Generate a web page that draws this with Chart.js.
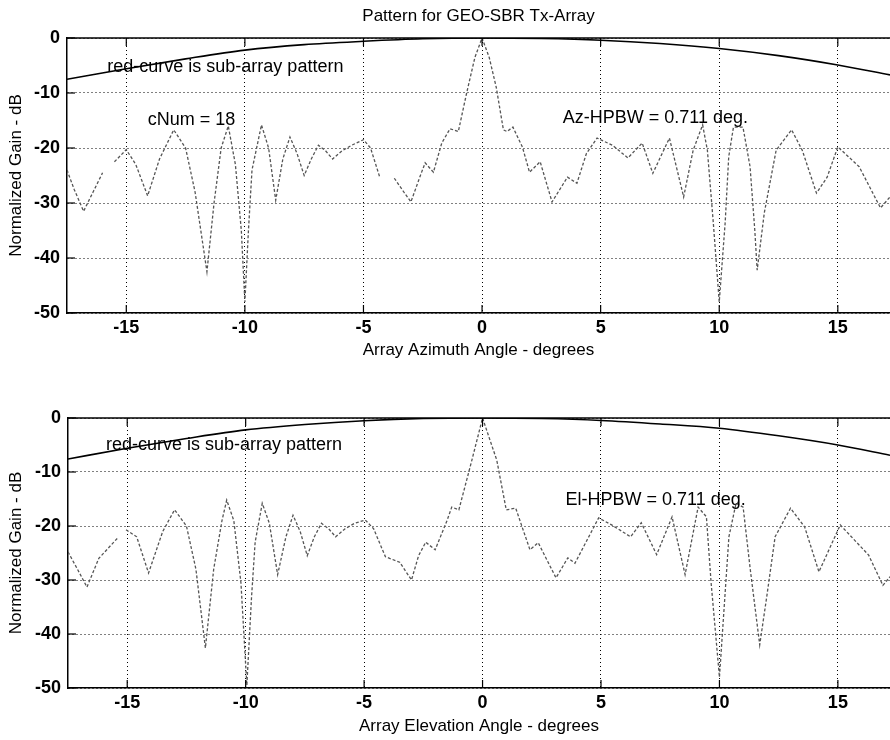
<!DOCTYPE html>
<html>
<head>
<meta charset="utf-8">
<script src="https://cdn.jsdelivr.net/npm/chart.js@4.4.1/dist/chart.umd.min.js"></script>
<style>
  body { margin: 0; background: #fff; }
  #wrap { position: relative; width: 890px; height: 740px; }
  canvas { position: absolute; left: 0; }
</style>
</head>
<body>
<div id="wrap">
  <canvas id="chart_Az" width="890" height="370" style="top:0"></canvas>
  <canvas id="chart_El" width="890" height="370" style="top:370px"></canvas>
</div>
<script>
// values
var xTicks = [-15, -10, -5, 0, 5, 10, 15];
var yTicks = [0, -10, -20, -30, -40, -50];

var azAngle = [-17.5, -17.2, -16.8, -16.4, -16.0, -15.8, -15.5, -15.0, -14.6, -14.1, -13.6, -13.0, -12.5, -12.1, -11.6, -11.3, -11.0, -10.7, -10.4, -10.15, -10.0, -9.85, -9.7, -9.3, -9.0, -8.7, -8.4, -8.1, -7.8, -7.5, -7.2, -6.9, -6.6, -6.3, -5.9, -5.5, -5.0, -4.7, -4.3, -4.0, -3.7, -3.3, -3.0, -2.6, -2.4, -2.05, -1.7, -1.35, -1.0, -0.65, -0.3, 0, 0.3, 0.6, 0.9, 1.05, 1.3, 1.7, 2.0, 2.45, 2.95, 3.6, 4.0, 4.4, 4.85, 5.5, 6.15, 6.75, 7.2, 7.9, 8.5, 8.9, 9.3, 9.5, 9.75, 10.0, 10.25, 10.4, 10.6, 11.0, 11.3, 11.5, 11.6, 11.9, 12.4, 13.05, 13.5, 14.1, 14.55, 15.0, 15.9, 16.8, 17.2];
var azGain = [-24, -27.5, -31.5, -28, -24.5, null, -22.5, -20.3, -23, -28.7, -22, -16.7, -20, -28, -42.5, -30, -20, -16, -23, -35, -48, -35, -24, -15.8, -20, -29.5, -22, -18, -21, -25, -22, -19.5, -20.5, -22, -20.5, -19.5, -18.5, -20, -25.5, null, -25.5, -28, -29.8, -25, -22.7, -24.4, -19.1, -16.5, -17, -10, -3.5, 0, -3.5, -9, -16.7, -17, -16.2, -19.8, -24.4, -22.5, -29.8, -25.3, -26.4, -21, -18.2, -19.5, -21.8, -19.1, -24.6, -18.2, -28.9, -20.4, -15.8, -20.4, -33.6, -48, -33.6, -21.6, -16.2, -16.2, -23.4, -35, -42.2, -31.8, -20.4, -16.7, -20.4, -28.2, -25.3, -19.8, -23.4, -30.9, -28.9];

var elAngle = [-17.5, -17.1, -16.7, -16.2, -15.4, -15.3, -15.05, -14.6, -14.1, -13.5, -13.0, -12.5, -12.1, -11.7, -11.35, -11.0, -10.8, -10.5, -10.2, -9.95, -9.75, -9.6, -9.3, -9.0, -8.65, -8.3, -8.0, -7.7, -7.4, -7.1, -6.8, -6.5, -6.2, -5.8, -5.4, -4.95, -4.6, -4.1, -3.5, -3.0, -2.7, -2.4, -2.0, -1.5, -1.3, -1.0, -0.45, 0, 0.6, 1.0, 1.4, 2.0, 2.35, 3.1, 3.6, 3.9, 4.9, 5.45, 6.25, 6.7, 7.35, 8.0, 8.55, 9.1, 9.45, 9.65, 10.0, 10.4, 10.7, 11.0, 11.3, 11.7, 12.0, 12.35, 13.0, 13.6, 14.2, 15.1, 16.3, 16.9, 17.2];
var elGain = [-24.8, -28, -31.3, -26, -22.2, null, -20.7, -22, -28.7, -21, -17, -20, -28, -42.6, -28, -19, -15.2, -19, -30.5, -49.5, -33, -23, -15.8, -19.5, -29, -22, -18, -21, -25.5, -22, -19.5, -20.5, -22, -20.5, -19.5, -18.9, -20.5, -25.7, -26.7, -30, -25.5, -23, -24.4, -19, -16.5, -17, -7.8, 0, -7.8, -17, -16.7, -24.4, -23.1, -29.6, -25.9, -26.9, -18.5, -19.8, -22, -19.4, -25.3, -18.3, -29, -16.5, -18.3, -30.6, -48, -22, -15.8, -16.5, -28, -42, -33, -22, -16.7, -20.2, -28.5, -19.8, -25.4, -31, -29.4];

var subAngle = [-17.5, -15, -12.5, -10, -7.5, -5, -2.5, 0, 2.5, 5, 7.5, 10, 12.5, 15, 17.2];
var azSubGain = [-7.5, -5.6, -3.8, -2.2, -1.2, -0.6, -0.15, 0, -0.1, -0.4, -1.0, -1.9, -3.2, -4.9, -6.7];
var elSubGain = [-7.6, -5.6, -3.8, -2.2, -1.2, -0.5, -0.1, 0, -0.1, -0.45, -1.1, -1.9, -3.3, -5.0, -6.9];

var FONT = "'Liberation Sans', Arial, sans-serif";

function toPoints(xs, ys) {
  var pts = [];
  for (var i = 0; i < xs.length; i++) {
    pts.push({ x: xs[i], y: ys[i] });
  }
  return pts;
}

// title, text notes, inward tick marks, top frame line
var plotExtras = {
  id: 'plotExtras',
  afterDraw: function (chart, args, opts) {
    var ctx = chart.ctx;
    var a = chart.chartArea;
    var xs = chart.scales.x, ys = chart.scales.y;
    ctx.save();
    ctx.strokeStyle = '#000';
    ctx.lineWidth = 1.5;
    ctx.beginPath();
    ctx.moveTo(a.left, a.top);
    ctx.lineTo(a.right, a.top);
    ctx.stroke();
    ctx.lineWidth = 1.2;
    xs.ticks.forEach(function (t) {
      var px = xs.getPixelForValue(t.value);
      ctx.beginPath();
      ctx.moveTo(px, a.bottom); ctx.lineTo(px, a.bottom - 8);
      ctx.moveTo(px, a.top); ctx.lineTo(px, a.top + 8);
      ctx.stroke();
    });
    ys.ticks.forEach(function (t) {
      var py = ys.getPixelForValue(t.value);
      ctx.beginPath();
      ctx.moveTo(a.left, py); ctx.lineTo(a.left + 8, py);
      ctx.stroke();
    });
    ctx.fillStyle = '#000';
    ctx.textBaseline = 'middle';
    if (opts.title) {
      ctx.font = '17px ' + FONT;
      ctx.textAlign = 'center';
      ctx.fillText(opts.title, (a.left + a.right) / 2, opts.titleY);
    }
    ctx.font = '18px ' + FONT;
    ctx.textAlign = 'left';
    (opts.notes || []).forEach(function (n) {
      ctx.fillText(n.text, xs.getPixelForValue(n.x), ys.getPixelForValue(n.y));
    });
    ctx.restore();
  }
};

function makePattern(canvasId, angle, gain, subGain, xTitle, extra, padTop, xHeight, yWidth, titlePad) {
  return new Chart(document.getElementById(canvasId), {
    type: 'line',
    data: {
      datasets: [{
        label: 'sub-array',
        data: toPoints(subAngle, subGain),
        borderColor: '#000',
        borderWidth: 1.6,
        pointRadius: 0,
        cubicInterpolationMode: 'monotone'
      }, {
        label: 'array',
        data: toPoints(angle, gain),
        borderColor: '#555',
        borderWidth: 1.3,
        borderDash: [3, 2],
        pointRadius: 0,
        spanGaps: false,
        tension: 0
      }]
    },
    options: {
      responsive: false,
      animation: false,
      layout: { padding: { top: padTop, left: 0, right: 0, bottom: 0 } },
      plugins: {
        legend: { display: false },
        tooltip: { enabled: false },
        plotExtras: extra
      },
      scales: {
        x: {
          type: 'linear',
          min: -17.5,
          max: 17.2,
          afterFit: function (s) { s.height = xHeight; },
          afterBuildTicks: function (s) { s.ticks = xTicks.map(function (v) { return { value: v }; }); },
          ticks: { includeBounds: false, padding: 4, color: '#000', font: { family: FONT, size: 18, weight: 'bold' } },
          grid: { color: '#000', lineWidth: 1, drawTicks: false },
          border: { display: true, color: '#000', width: 1.5, dash: [1, 3] },
          title: { display: true, text: xTitle, color: '#000', padding: titlePad, font: { family: FONT, size: 17 } }
        },
        y: {
          type: 'linear',
          min: -50,
          max: 0,
          afterFit: function (s) { s.width = yWidth; },
          afterBuildTicks: function (s) { s.ticks = yTicks.map(function (v) { return { value: v }; }); },
          ticks: { padding: 7, color: '#000', font: { family: FONT, size: 18, weight: 'bold' } },
          grid: { color: '#000', lineWidth: 1, drawTicks: false },
          border: { display: true, color: '#000', width: 1.5, dash: [1, 3] },
          title: { display: true, text: 'Normalized Gain - dB', color: '#000', padding: 6, font: { family: FONT, size: 17 } }
        }
      }
    },
    plugins: [plotExtras]
  });
}

makePattern('chart_Az', azAngle, azGain, azSubGain, 'Array Azimuth Angle - degrees', {
  title: 'Pattern for GEO-SBR Tx-Array',
  titleY: 16,
  notes: [
    { text: 'red-curve is sub-array pattern', x: -15.8, y: -5.3 },
    { text: 'cNum = 18', x: -14.1, y: -15 },
    { text: 'Az-HPBW = 0.711 deg.', x: 3.4, y: -14.5 }
  ]
}, 38, 57, 67, 9);

makePattern('chart_El', elAngle, elGain, elSubGain, 'Array Elevation Angle - degrees', {
  notes: [
    { text: 'red-curve is sub-array pattern', x: -15.9, y: -5 },
    { text: 'El-HPBW = 0.711 deg.', x: 3.5, y: -15.2 }
  ]
}, 48, 52, 68, 3);
</script>
</body>
</html>
